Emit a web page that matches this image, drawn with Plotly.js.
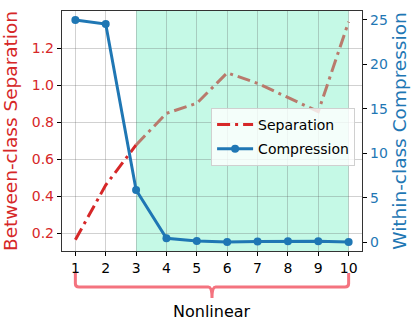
<!DOCTYPE html>
<html>
<head>
<meta charset="utf-8">
<script src="https://cdn.plot.ly/plotly-3.0.1.min.js"></script>
<style>html,body{margin:0;padding:0;background:#fff;}#chart{width:411px;height:321px;}</style>
</head>
<body>
<div id="chart"></div>
<script>
const steps = [1, 2, 3, 4, 5, 6, 7, 8, 9, 10];
const separation = [0.163, 0.459, 0.676, 0.847, 0.901, 1.066, 1.009, 0.933, 0.856, 1.342];
const compression = [25.0, 24.55, 5.86, 0.42, 0.11, 0.0, 0.05, 0.08, 0.08, 0.0];
const leftTicks = [0.2, 0.4, 0.6, 0.8, 1.0, 1.2];
const rightTicks = [0, 5, 10, 15, 20, 25];
const shadeStart = 3, shadeEnd = 10;
const bracketLabel = "Nonlinear";

const FONT = "DejaVu Sans, sans-serif";
const RED = "#d62728", BROWN = "#b97a6c", BLUE = "#1f77b4", PINK = "#f4737f";
const dashdot = "13px,5px,3px,5px";

const traces = [
  {x: steps.slice(0, 3), y: separation.slice(0, 3), name: "Separation", mode: "lines", legendgroup: "a",
   line: {color: RED, width: 3, dash: dashdot}, yaxis: "y"},
  {x: steps.slice(2), y: separation.slice(2), name: "Separation", mode: "lines", showlegend: false, legendgroup: "a",
   line: {color: BROWN, width: 3, dash: dashdot}, yaxis: "y"},
  {x: steps, y: compression, name: "Compression", mode: "lines+markers", legendgroup: "b",
   line: {color: BLUE, width: 3}, marker: {color: BLUE, size: 8}, yaxis: "y2"}
];

const midX = (steps[0] + steps[steps.length - 1]) / 2;
const x0 = steps[0], x1 = steps[steps.length - 1];
const yTop = -0.092, yBar = -0.15, yTip = -0.196, r = 0.12, ry = 0.015;

const layout = {
  width: 411, height: 321,
  margin: {l: 62, r: 49, t: 11, b: 70},
  paper_bgcolor: "#fff", plot_bgcolor: "#fff",
  font: {family: FONT, size: 14, color: "#000"},
  showlegend: true,
  legend: {x: 0.977, y: 0.596, xanchor: "right", yanchor: "top", traceorder: "grouped",
    tracegroupgap: 3, itemwidth: 36,
    bgcolor: "rgba(255,255,255,0.8)", bordercolor: "#d0d0d0", borderwidth: 1,
    font: {family: FONT, size: 14, color: "#000"}},
  xaxis: {range: [0.56, 10.44], tickvals: steps, ticks: "outside", ticklen: 4, tickcolor: "#000",
    showgrid: true, gridcolor: "rgba(90,90,90,0.28)", gridwidth: 1,
    showline: true, linecolor: "#333", linewidth: 1.2, mirror: true, zeroline: false,
    tickfont: {family: FONT, size: 14, color: "#000"}},
  yaxis: {range: [0.1027, 1.4], tickvals: leftTicks, tickformat: ".1f", ticks: "outside", ticklen: 4,
    tickcolor: "#000", showgrid: true, gridcolor: "rgba(90,90,90,0.28)", gridwidth: 1,
    showline: true, linecolor: "#333", linewidth: 1.2, zeroline: false,
    tickfont: {family: FONT, size: 14, color: RED},
    title: {text: "Between-class Separation", font: {family: FONT, size: 18.5, color: RED}, standoff: 10}},
  yaxis2: {range: [-1.01, 26.01], tickvals: rightTicks, overlaying: "y", side: "right",
    ticks: "outside", ticklen: 4, tickcolor: "#000", showgrid: false, zeroline: false,
    showline: true, linecolor: "#333", linewidth: 1.2,
    tickfont: {family: FONT, size: 14, color: BLUE},
    title: {text: "Within-class Compression", font: {family: FONT, size: 18.5, color: BLUE}, standoff: 6}},
  shapes: [
    {type: "rect", xref: "x", yref: "paper", x0: shadeStart, x1: shadeEnd, y0: 0, y1: 1,
     fillcolor: "#c5f9e6", line: {width: 0}, layer: "below"},
    {type: "path", xref: "x", yref: "paper", layer: "above",
     path: `M ${x0},${yTop} L ${x0},${yBar + ry} Q ${x0},${yBar} ${x0 + r},${yBar} ` +
           `L ${midX - r},${yBar} Q ${midX},${yBar} ${midX},${yTip} ` +
           `Q ${midX},${yBar} ${midX + r},${yBar} L ${x1 - r},${yBar} ` +
           `Q ${x1},${yBar} ${x1},${yBar + ry} L ${x1},${yTop}`,
     line: {color: PINK, width: 3}}
  ],
  annotations: [
    {text: bracketLabel, xref: "x", yref: "paper", x: midX, y: -0.25, showarrow: false,
     xanchor: "center", yanchor: "middle", font: {family: FONT, size: 16, color: "#000"}}
  ]
};

Plotly.newPlot("chart", traces, layout, {displayModeBar: false, staticPlot: true});
</script>
</body>
</html>
